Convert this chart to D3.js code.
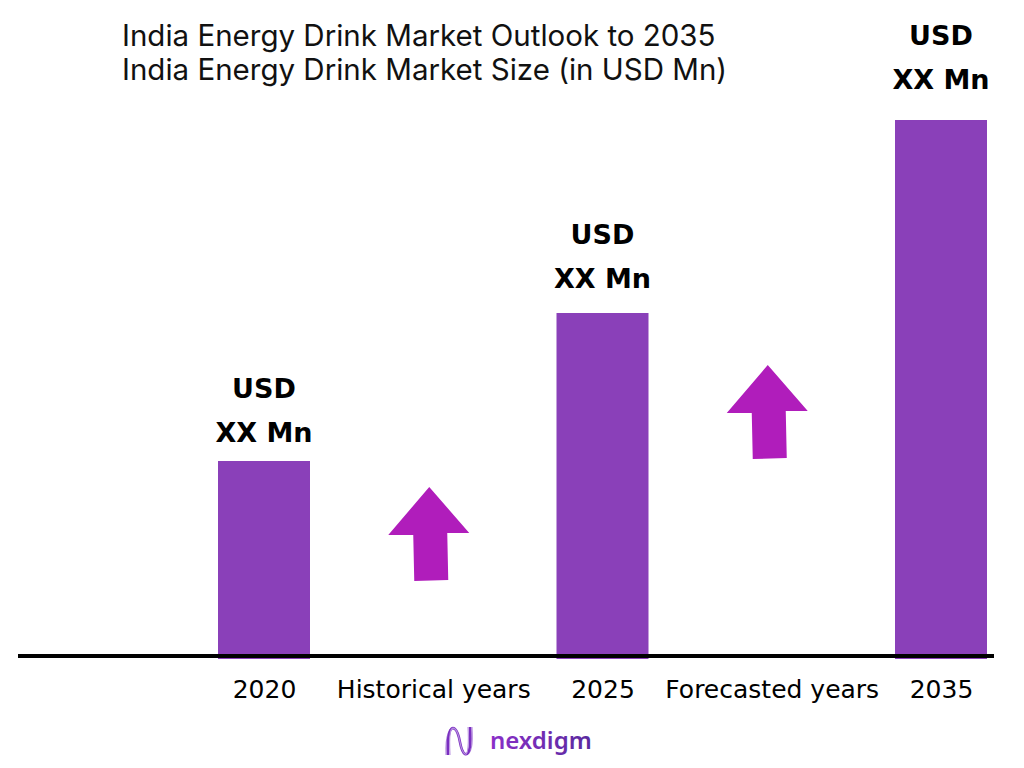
<!DOCTYPE html>
<html>
<head>
<meta charset="utf-8">
<script src="https://cdn.jsdelivr.net/npm/d3@7"></script>
<style>
  html, body { margin: 0; padding: 0; background: #fff; }
  svg { display: block; }
</style>
</head>
<body>
<div id="chart"></div>
<script>
// chart data
var titleLines = ['India Energy Drink Market Outlook to 2035', 'India Energy Drink Market Size (in USD Mn)'];
var slots = ['2020', 'Historical years', '2025', 'Forecasted years', '2035'];
var barYears = ['2020', '2025', '2035'];
var barValues = [19.5, 34.3, 53.6];
var barLabels = ['USD', 'XX Mn'];
var arrowSlots = ['Historical years', 'Forecasted years'];
var arrowBase = [7.5, 19.7];

var width = 1024, height = 768;
var svg = d3.select('#chart').append('svg')
    .attr('width', width)
    .attr('height', height);

var x = d3.scalePoint().domain(slots).range([264, 941]);
var y = d3.scaleLinear().domain([0, 60]).range([656, 56]);
var barW = 92;

// title
svg.append('g').selectAll('text')
    .data(titleLines)
  .enter().append('text')
    .attr('x', 122)
    .attr('y', function(d, i) { return 46 + i * 34; })
    .style('font-family', 'Inter, "Noto Sans", sans-serif')
    .style('font-size', '29.5px')
    .style('font-weight', 400)
    .style('fill', '#111')
    .text(function(d) { return d; });

// bars
svg.append('g').selectAll('rect')
    .data(barValues)
  .enter().append('rect')
    .attr('x', function(d, i) { return x(barYears[i]) - barW / 2; })
    .attr('y', function(d) { return y(d); })
    .attr('width', barW)
    .attr('height', function(d) { return y(0) - y(d) + 3; })
    .style('fill', '#8a40b9');

// value labels above bars
var lab = svg.append('g').selectAll('g')
    .data(barValues)
  .enter().append('g');
barLabels.forEach(function(t, j) {
  lab.append('text')
      .attr('x', function(d, i) { return x(barYears[i]); })
      .attr('y', function(d, i) { return y(d) - 63 - i * 6 + j * 44; })
      .attr('text-anchor', 'middle')
      .style('font-family', '"DejaVu Sans", sans-serif')
      .style('font-size', '27px')
      .style('font-weight', 700)
      .style('fill', '#000')
      .text(t);
});

// axis baseline + labels
var axis = d3.axisBottom(x).tickSize(0).tickPadding(24);
var ax = svg.append('g')
    .attr('transform', 'translate(0,' + y(0) + ')')
    .call(axis);
ax.select('.domain')
    .attr('d', 'M18,0H994')
    .style('stroke', '#000')
    .style('stroke-width', 4);
ax.selectAll('.tick text')
    .style('font-family', '"DejaVu Sans", sans-serif')
    .style('font-size', '25px')
    .style('fill', '#000');

// up arrows
var arrowPts = [[-41, -46], [0, -94], [40, -48], [18, -48], [19, -1], [-15, 0], [-16, -46]];
svg.append('g').selectAll('polygon')
    .data(arrowBase)
  .enter().append('polygon')
    .attr('transform', function(d, i) {
      return 'translate(' + (x(arrowSlots[i]) - 4) + ',' + y(d) + ')';
    })
    .attr('points', arrowPts.map(function(p) { return p.join(','); }).join(' '))
    .style('fill', '#b01dbb');

// logo
var defs = svg.append('defs');
var grad = defs.append('linearGradient').attr('id', 'lg').attr('x1', '0%').attr('x2', '100%');
grad.append('stop').attr('offset', '0%').attr('stop-color', '#8a2fc8');
grad.append('stop').attr('offset', '100%').attr('stop-color', '#5a2a9e');
var logo = svg.append('g').attr('transform', 'translate(446,725)');
[-2, 0, 2].forEach(function(o, k) {
  logo.append('path')
      .attr('d', 'M' + (2 + o) + ',30 C' + (1 + o) + ',10 4,0 9,4 C15,9 13,26 19,29 C' + (24 - o) + ',31 ' + (25 - o) + ',18 ' + (24 - o) + ',2')
      .style('fill', 'none')
      .style('stroke', k === 1 ? '#7a2fc0' : '#b890e0')
      .style('stroke-width', k === 1 ? 2.6 : 1.1);
});
logo.append('text')
    .attr('x', 44)
    .attr('y', 24)
    .style('font-family', '"Noto Sans", sans-serif')
    .style('font-size', '24px')
    .style('font-weight', 600)
    .style('fill', 'url(#lg)')
    .text('nexdigm');
</script>
</body>
</html>
